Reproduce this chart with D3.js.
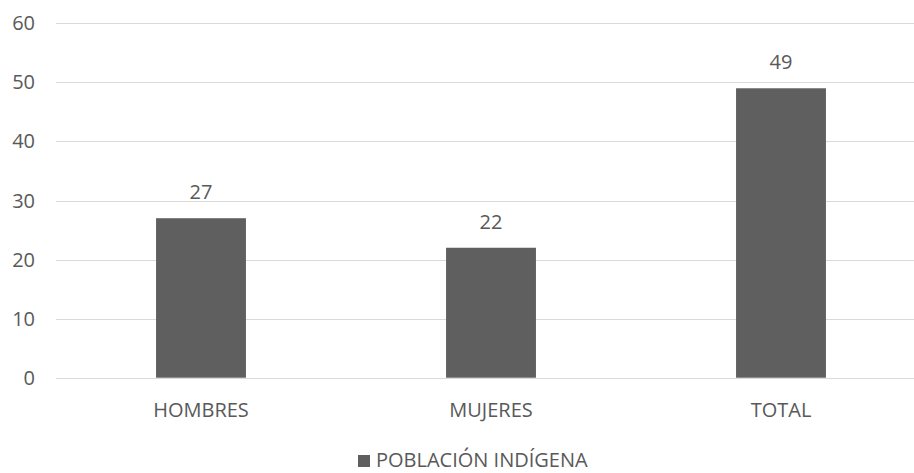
<!DOCTYPE html>
<html><head><meta charset="utf-8">
<script src="https://cdn.jsdelivr.net/npm/d3@7"></script>
<style>body{margin:0;background:#fff}svg{display:block}text{font-family:"Open Sans",sans-serif;fill:#595959}</style>
</head><body>
<script>
const categories = ["HOMBRES", "MUJERES", "TOTAL"];
const values = [27, 22, 49];
const yTicks = [0, 10, 20, 30, 40, 50, 60];
const seriesName = "POBLACIÓN INDÍGENA";

const W = 914, H = 473;
const FS = 20;
const svg = d3.select("body").append("svg").attr("width", W).attr("height", H);
const x = d3.scaleBand().domain(categories).range([56, 926]).padding(0);
const y = d3.scaleLinear().domain([0, 60]).range([377.7, 23.3]);

svg.append("g").selectAll("line").data(yTicks).join("line")
  .attr("x1", 56).attr("x2", W).attr("y1", d => Math.round(y(d)) + 0.5).attr("y2", d => Math.round(y(d)) + 0.5)
  .attr("stroke", "#d9d9d9").attr("stroke-width", 1);

svg.append("g").selectAll("text").data(yTicks).join("text")
  .attr("x", 35).attr("y", d => y(d) + 7).attr("text-anchor", "end")
  .attr("font-size", FS).text(d => d);

const bw = x.bandwidth() * 0.31;
svg.append("g").selectAll("rect").data(values).join("rect")
  .attr("x", (d, i) => x(categories[i]) + x.bandwidth() / 2 - bw / 2)
  .attr("width", bw)
  .attr("y", d => y(d)).attr("height", d => y(0) - y(d))
  .attr("fill", "#5f5f5f");

svg.append("g").selectAll("text").data(values).join("text")
  .attr("x", (d, i) => x(categories[i]) + x.bandwidth() / 2)
  .attr("y", d => y(d) - 19).attr("text-anchor", "middle")
  .attr("font-size", FS).text(d => d);

svg.append("g").selectAll("text").data(categories).join("text")
  .attr("x", d => x(d) + x.bandwidth() / 2).attr("y", 417).attr("text-anchor", "middle")
  .attr("font-size", FS).text(d => d);

const lg = svg.append("g");
lg.append("rect").attr("x", 358).attr("y", 455).attr("width", 12).attr("height", 12).attr("fill", "#5f5f5f");
lg.append("text").attr("x", 376).attr("y", 467).attr("font-size", FS).text(seriesName);
</script>
</body></html>
